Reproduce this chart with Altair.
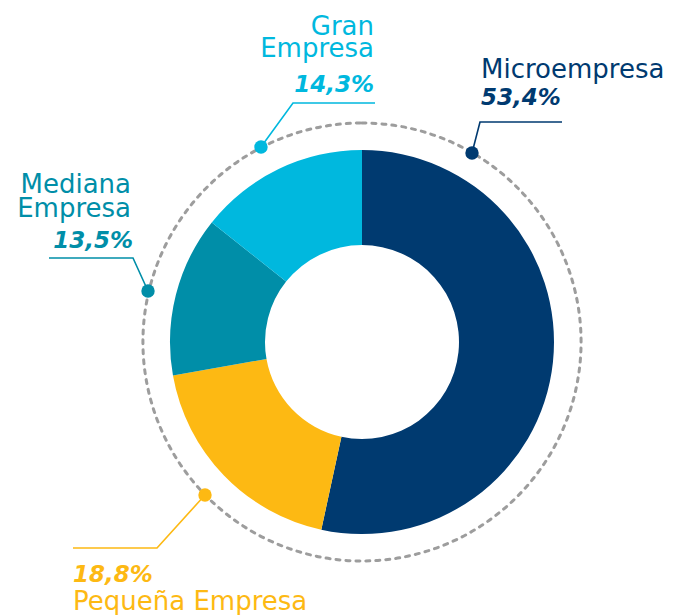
import math
import altair as alt
import pandas as pd

# ---- data ----
categories = ["Microempresa", "Pequeña Empresa", "Mediana Empresa", "Gran Empresa"]
shares = [53.4, 18.8, 13.5, 14.3]
share_labels = ["53,4%", "18,8%", "13,5%", "14,3%"]
colors = ["#003A70", "#FDB913", "#008EA8", "#00B8DE"]

# ---- layout (window pixel coordinates) ----
W, H = 671, 607
M = 8
CX, CY = 362, 342
R_OUT, R_IN, R_RING = 192, 97, 219

# leader lines: dot -> elbow -> end
leaders = {
    "Microempresa": [(472, 153), (480, 122), (562, 122)],
    "Gran Empresa": [(261, 147), (293, 103), (375, 103)],
    "Mediana Empresa": [(148, 291), (133, 258), (49, 258)],
    "Pequeña Empresa": [(205, 495), (157, 548), (73, 548)],
}

# label texts: (category, text, x, y, align, bold)
texts = [
    ("Microempresa", "Microempresa", 481, 78, "left", False),
    ("Microempresa", share_labels[0], 481, 105, "left", True),
    ("Gran Empresa", "Gran", 374, 35, "right", False),
    ("Gran Empresa", "Empresa", 374, 57, "right", False),
    ("Gran Empresa", share_labels[3], 374, 92, "right", True),
    ("Mediana Empresa", "Mediana", 131, 193, "right", False),
    ("Mediana Empresa", "Empresa", 131, 217, "right", False),
    ("Mediana Empresa", share_labels[2], 133, 248, "right", True),
    ("Pequeña Empresa", share_labels[1], 73, 582, "left", True),
    ("Pequeña Empresa", "Pequeña Empresa", 73, 610, "left", False),
]

xs = alt.Scale(domain=[M, M + W], nice=False, zero=False)
ys = alt.Scale(domain=[M, M + H], nice=False, zero=False, reverse=True)
cs = alt.Scale(domain=categories, range=colors)

pie_df = pd.DataFrame({"category": categories, "share": shares, "order": list(range(len(categories)))})

donut = alt.Chart(pie_df).mark_arc(innerRadius=R_IN, outerRadius=R_OUT).encode(
    theta=alt.Theta("share:Q", stack=True),
    order=alt.Order("order:O"),
    color=alt.Color("category:N", scale=cs, legend=None),
    x=alt.value(CX - M),
    y=alt.value(CY - M),
)

ring = alt.Chart(pd.DataFrame({"k": [0]})).mark_arc(
    outerRadius=R_RING, innerRadius=0, theta=0, theta2=2 * math.pi,
    fillOpacity=0, stroke="#9d9d9d", strokeWidth=3, strokeDash=[4, 6], strokeCap="round",
).encode(x=alt.value(CX - M), y=alt.value(CY - M))

line_rows = []
for cat, pts in leaders.items():
    for i, (px, py) in enumerate(pts):
        line_rows.append({"category": cat, "idx": i, "x": px, "y": py})
line_df = pd.DataFrame(line_rows)

lines = alt.Chart(line_df).mark_line(strokeWidth=1.6).encode(
    x=alt.X("x:Q", scale=xs, axis=None),
    y=alt.Y("y:Q", scale=ys, axis=None),
    detail="category:N",
    order="idx:O",
    color=alt.Color("category:N", scale=cs, legend=None),
)

dot_df = line_df[line_df["idx"] == 0]
dots = alt.Chart(dot_df).mark_circle(size=180, opacity=1).encode(
    x=alt.X("x:Q", scale=xs, axis=None),
    y=alt.Y("y:Q", scale=ys, axis=None),
    color=alt.Color("category:N", scale=cs, legend=None),
)

layers = [ring, donut, lines, dots]
for cat, txt, tx, ty, align, bold in texts:
    df = pd.DataFrame({"category": [cat], "t": [txt], "x": [tx], "y": [ty]})
    if bold:
        props = dict(align=align, baseline="alphabetic", font="DejaVu Sans", fontSize=23,
                     fontWeight="bold", fontStyle="italic")
    else:
        props = dict(align=align, baseline="alphabetic", font="DejaVu Sans", fontSize=26)
    layers.append(
        alt.Chart(df).mark_text(**props).encode(
            x=alt.X("x:Q", scale=xs, axis=None),
            y=alt.Y("y:Q", scale=ys, axis=None),
            text="t:N",
            color=alt.Color("category:N", scale=cs, legend=None),
        )
    )

chart = alt.layer(*layers).properties(
    width=W, height=H, padding=0, autosize=alt.AutoSizeParams(type="none"),
).configure_view(stroke=None)

chart.save("out.html", embed_options={"renderer": "svg", "actions": False})
